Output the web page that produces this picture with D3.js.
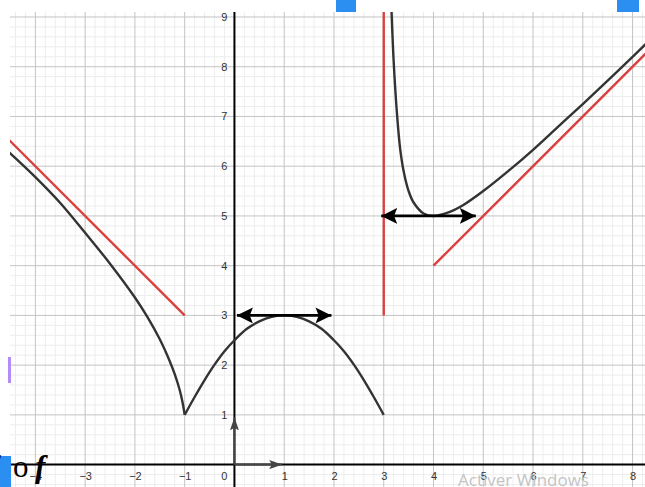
<!DOCTYPE html>
<html>
<head>
<meta charset="utf-8">
<style>
  body { margin: 0; background: #fff; }
  svg { display: block; }
  .tick text { font: 11px "Liberation Sans", Arial, sans-serif; fill: #333; }
  .curve { fill: none; stroke: #333; stroke-width: 2.4px; stroke-linejoin: round; }
  .asym { fill: none; stroke: #d9403e; stroke-width: 2.4px; }
</style>
</head>
<body>
<svg width="645" height="487"></svg>
<script src="https://cdn.jsdelivr.net/npm/d3@7"></script>
<script>
// curve of f (three branches)
var leftX  = [-4.55, -4, -3.5, -3, -2.5, -2, -1.75, -1.5, -1.3, -1.2, -1.1, -1.04, -1];
var leftY  = [6.3, 5.78, 5.26, 4.66, 4.04, 3.36, 2.97, 2.52, 2.08, 1.82, 1.5, 1.24, 1];
var midX   = [-1, -0.8, -0.6, -0.4, -0.2, 0, 0.25, 0.5, 0.75, 1, 1.25, 1.5, 1.75, 2, 2.2, 2.4, 2.6, 2.8, 3];
var midY   = [1, 1.36, 1.7, 2.01, 2.28, 2.5, 2.73, 2.88, 2.97, 3, 2.97, 2.88, 2.73, 2.5, 2.28, 2.01, 1.7, 1.36, 1];
var rightX = [3.15, 3.2, 3.27, 3.33, 3.4, 3.5, 3.6, 3.8, 4, 4.3, 4.6, 5, 5.5, 6, 6.5, 7, 7.5, 8, 8.3];
var rightY = [9.3, 8.1, 7.0, 6.35, 5.9, 5.5, 5.27, 5.05, 5.0, 5.07, 5.22, 5.5, 5.9, 6.33, 6.79, 7.25, 7.72, 8.2, 8.49];

// asymptote pieces (red)
var asymptotes = [
  [[-4.6, 6.6], [-1, 3]],
  [[3, 3], [3, 9.3]],
  [[4, 4], [8.3, 8.3]]
];

// horizontal tangent arrows and unit vectors
var tangents = [
  [[0.05, 3], [1.95, 3]],
  [[2.95, 5], [4.85, 5]]
];
var unitVectors = [
  [[0, 0], [0, 0.95]],
  [[0, 0], [0.96, 0]]
];

var xTicks = [-4, -3, -2, -1, 1, 2, 3, 4, 5, 6, 7, 8];
var yTicks = [1, 2, 3, 4, 5, 6, 7, 8, 9];

var margin = {top: 12, right: 0, bottom: 0, left: 10};
var svg = d3.select("svg"),
    width = +svg.attr("width") - margin.left - margin.right,
    height = +svg.attr("height") - margin.top - margin.bottom;

var x = d3.scaleLinear().domain([-4.51, 8.25]).range([margin.left, margin.left + width]);
var y = d3.scaleLinear().domain([-0.45, 9.1]).range([margin.top + height, margin.top]);

var defs = svg.append("defs");
defs.append("clipPath").attr("id", "plot")
  .append("rect")
  .attr("x", margin.left).attr("y", margin.top)
  .attr("width", width).attr("height", height);

function arrowMarker(id, len, half, color) {
  defs.append("marker")
    .attr("id", id)
    .attr("markerUnits", "userSpaceOnUse")
    .attr("viewBox", (-len) + " " + (-half) + " " + len + " " + (2 * half))
    .attr("refX", 0).attr("refY", 0)
    .attr("markerWidth", len).attr("markerHeight", 2 * half)
    .attr("orient", "auto-start-reverse")
    .append("path")
    .attr("d", "M0,0L" + (-len) + "," + (-half) + "L" + (-len * 0.8) + ",0L" + (-len) + "," + half + "Z")
    .attr("fill", color);
}
arrowMarker("head", 16, 8, "#000");
arrowMarker("vhead", 13, 4.5, "#444");

var g = svg.append("g").attr("clip-path", "url(#plot)");

// grid
var minor = d3.range(-23, 42).map(function (i) { return i / 5; });
var minorY = d3.range(-3, 47).map(function (i) { return i / 5; });
g.selectAll(".vminor").data(minor.filter(function (d) { return Math.round(d * 5) % 5 !== 0; }))
  .enter().append("line")
  .attr("x1", x).attr("x2", x)
  .attr("y1", margin.top).attr("y2", margin.top + height)
  .attr("stroke", "#ededed").attr("stroke-width", 1);
g.selectAll(".hminor").data(minorY.filter(function (d) { return Math.round(d * 5) % 5 !== 0; }))
  .enter().append("line")
  .attr("y1", y).attr("y2", y)
  .attr("x1", margin.left).attr("x2", margin.left + width)
  .attr("stroke", "#ededed").attr("stroke-width", 1);
g.selectAll(".vmajor").data(d3.range(-4, 9))
  .enter().append("line")
  .attr("x1", x).attr("x2", x)
  .attr("y1", margin.top).attr("y2", margin.top + height)
  .attr("stroke", "#c4c4c4").attr("stroke-width", 1);
g.selectAll(".hmajor").data(d3.range(0, 10))
  .enter().append("line")
  .attr("y1", y).attr("y2", y)
  .attr("x1", margin.left).attr("x2", margin.left + width)
  .attr("stroke", "#c4c4c4").attr("stroke-width", 1);

// axes
g.append("line")
  .attr("x1", margin.left).attr("x2", margin.left + width)
  .attr("y1", y(0)).attr("y2", y(0))
  .attr("stroke", "#000").attr("stroke-width", 2);
g.append("line")
  .attr("x1", x(0)).attr("x2", x(0))
  .attr("y1", margin.top).attr("y2", margin.top + height)
  .attr("stroke", "#000").attr("stroke-width", 2);

var xAxis = svg.append("g")
  .attr("transform", "translate(0," + y(0) + ")")
  .call(d3.axisBottom(x).tickValues(xTicks).tickSize(0).tickPadding(8));
xAxis.select(".domain").remove();

var yAxis = svg.append("g")
  .attr("transform", "translate(" + x(0) + ",0)")
  .call(d3.axisLeft(y).tickValues(yTicks).tickSize(0).tickPadding(7));
yAxis.select(".domain").remove();

svg.append("text")
  .attr("x", x(0) - 7).attr("y", y(0) + 8).attr("dy", "0.71em")
  .attr("text-anchor", "end")
  .style("font", "11px 'Liberation Sans', Arial, sans-serif").style("fill", "#333")
  .text("0");

// unit vectors
var seg = d3.line().x(function (d) { return x(d[0]); }).y(function (d) { return y(d[1]); });
g.selectAll(".unit").data(unitVectors)
  .enter().append("path")
  .attr("d", seg)
  .attr("stroke", "#444").attr("stroke-width", 2).attr("fill", "none")
  .attr("marker-end", "url(#vhead)");

// asymptotes
g.selectAll(".asym").data(asymptotes)
  .enter().append("path")
  .attr("class", "asym")
  .attr("d", seg);

// curve branches
var smooth = d3.line()
  .curve(d3.curveCatmullRom.alpha(0.5))
  .x(function (d) { return x(d[0]); })
  .y(function (d) { return y(d[1]); });
var branches = [[leftX, leftY], [midX, midY], [rightX, rightY]].map(function (b) {
  return b[0].map(function (v, i) { return [v, b[1][i]]; });
});
g.selectAll(".curve").data(branches)
  .enter().append("path")
  .attr("class", "curve")
  .attr("d", smooth);

// horizontal tangents
g.selectAll(".tan").data(tangents)
  .enter().append("path")
  .attr("d", seg)
  .attr("stroke", "#000").attr("stroke-width", 2.8).attr("fill", "none")
  .attr("marker-start", "url(#head)")
  .attr("marker-end", "url(#head)");

// screenshot leftovers
svg.append("rect").attr("x", 336).attr("y", 0).attr("width", 20).attr("height", 12).attr("fill", "#2a8ff0");
svg.append("rect").attr("x", 617).attr("y", 0).attr("width", 22).attr("height", 12).attr("fill", "#2a8ff0");
svg.append("rect").attr("x", 0).attr("y", 456).attr("width", 11).attr("height", 31).attr("fill", "#2a8ff0");
svg.append("rect").attr("x", 8).attr("y", 357).attr("width", 3).attr("height", 26).attr("fill", "#b58cf7");

// label f o f
var lbl = svg.append("text")
  .attr("y", 477)
  .style("font-family", "'Liberation Serif', 'DejaVu Serif', serif")
  .style("font-size", "31px");
lbl.append("tspan").attr("x", -12).style("font-weight", "bold").style("font-style", "italic").text("f");
lbl.append("tspan").attr("x", 13).text("o");
lbl.append("tspan").attr("x", 35).style("font-weight", "bold").style("font-style", "italic").text("f");

svg.append("text")
  .attr("x", 458).attr("y", 486)
  .style("font", "17px 'Open Sans', sans-serif")
  .style("fill", "#c4c4c4")
  .text("Activer Windows");
</script>
</body>
</html>
